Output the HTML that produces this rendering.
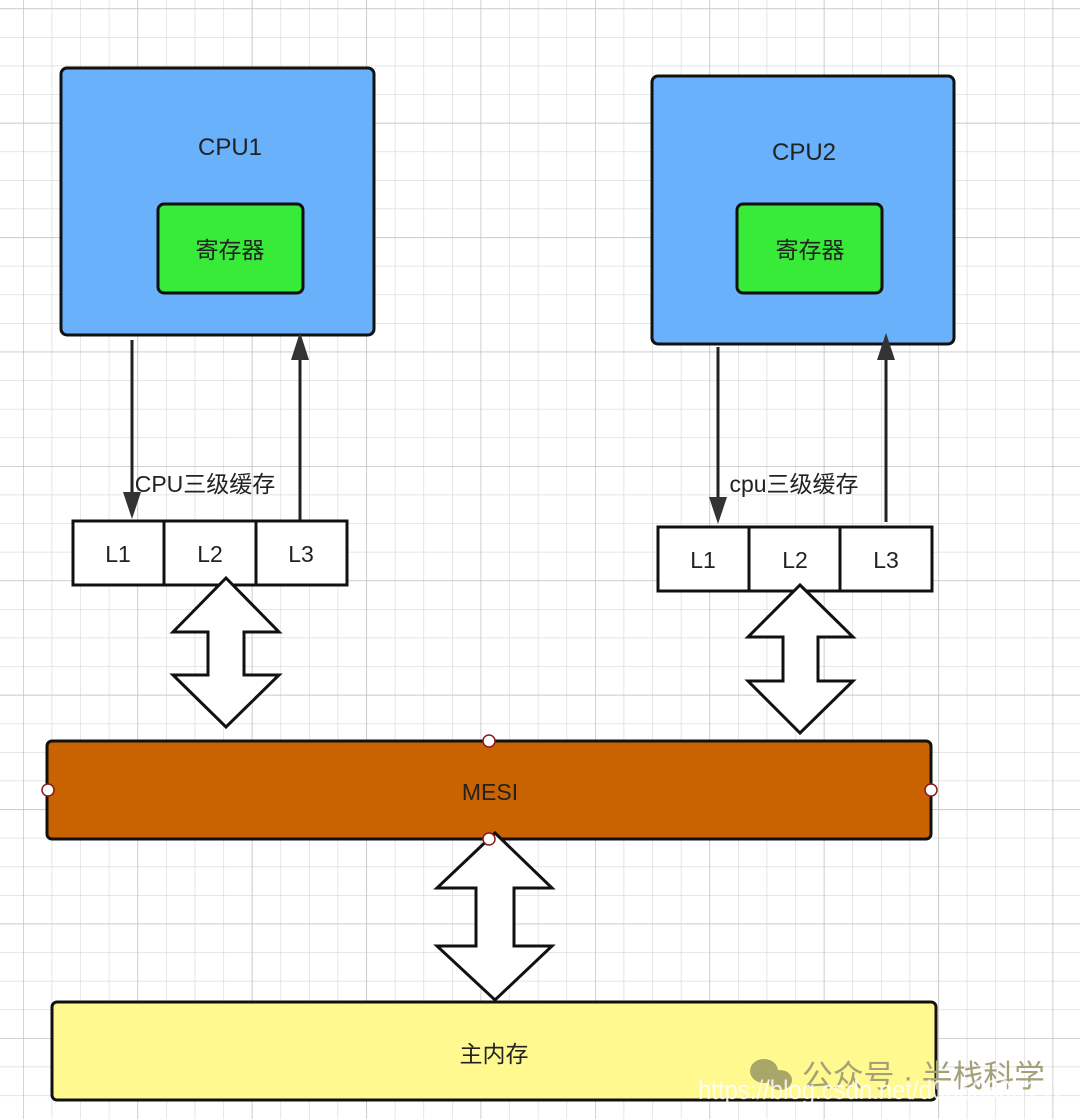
<!DOCTYPE html>
<html><head><meta charset="utf-8"><style>
html,body{margin:0;padding:0;background:#fff;}
svg{display:block;}
text{font-family:"Liberation Sans","Noto Sans CJK SC",sans-serif;fill:#222;}
</style></head><body>
<svg width="1080" height="1119" viewBox="0 0 1080 1119" xmlns="http://www.w3.org/2000/svg">
<defs>
<pattern id="g" x="23" y="8.4" width="28.6" height="28.6" patternUnits="userSpaceOnUse">
<path d="M0 0H28.6M0 0V28.6" stroke="#d6d6d6" stroke-width="1.2" fill="none"/>
</pattern>
<pattern id="G" x="23" y="8.4" width="114.4" height="114.4" patternUnits="userSpaceOnUse">
<path d="M0 0H114.4M0 0V114.4" stroke="#bdbdbd" stroke-width="1.2" fill="none"/>
</pattern>
</defs>
<rect width="1080" height="1119" fill="url(#g)"/>
<rect width="1080" height="1119" fill="url(#G)"/>

<!-- CPU1 -->
<rect x="61" y="68" width="313" height="267" rx="6" fill="#69b1fb" stroke="#111" stroke-width="3"/>
<text x="230" y="155" font-size="24" text-anchor="middle">CPU1</text>
<rect x="158" y="204" width="145" height="89" rx="6" fill="#38eb38" stroke="#111" stroke-width="3"/>
<text x="230" y="258" font-size="23" text-anchor="middle">寄存器</text>

<!-- CPU2 -->
<rect x="652" y="76" width="302" height="268" rx="6" fill="#69b1fb" stroke="#111" stroke-width="3"/>
<text x="804" y="160" font-size="24" text-anchor="middle">CPU2</text>
<rect x="737" y="204" width="145" height="89" rx="6" fill="#38eb38" stroke="#111" stroke-width="3"/>
<text x="810" y="258" font-size="23" text-anchor="middle">寄存器</text>

<!-- connectors cpu1 -->
<line x1="132" y1="340" x2="132" y2="495" stroke="#222" stroke-width="3"/>
<polygon points="123,492 141,492 132,519" fill="#333"/>
<line x1="300" y1="520" x2="300" y2="358" stroke="#222" stroke-width="3"/>
<polygon points="291,360 309,360 300,332" fill="#333"/>
<text x="205" y="492" font-size="23" text-anchor="middle">CPU三级缓存</text>

<!-- connectors cpu2 -->
<line x1="718" y1="347" x2="718" y2="500" stroke="#222" stroke-width="3"/>
<polygon points="709,497 727,497 718,524" fill="#333"/>
<line x1="886" y1="522" x2="886" y2="358" stroke="#222" stroke-width="3"/>
<polygon points="877,360 895,360 886,333" fill="#333"/>
<text x="794" y="492" font-size="23" text-anchor="middle">cpu三级缓存</text>

<g fill="#fff" stroke="#111" stroke-width="3">
<rect x="73" y="521" width="91" height="64"/>
<rect x="164" y="521" width="92" height="64"/>
<rect x="256" y="521" width="91" height="64"/>
<rect x="658" y="527" width="91" height="64"/>
<rect x="749" y="527" width="91" height="64"/>
<rect x="840" y="527" width="92" height="64"/>
</g>
<g font-size="23" text-anchor="middle">
<text x="118" y="562">L1</text><text x="210" y="562">L2</text><text x="301" y="562">L3</text>
<text x="703" y="568">L1</text><text x="795" y="568">L2</text><text x="886" y="568">L3</text>
</g>

<g fill="#fff" stroke="#111" stroke-width="3" stroke-linejoin="miter">
<polygon points="226,578 279,632 244,632 244,675 279,675 226,727 173,675 208,675 208,632 173,632"/>
<polygon points="800,585 853,637 818,637 818,681 853,681 800,733 748,681 783,681 783,637 748,637"/>
</g>

<rect x="47" y="741" width="884" height="98" rx="5" fill="#c96200" stroke="#111" stroke-width="3"/>
<text x="490" y="800" font-size="23" text-anchor="middle">MESI</text>

<rect x="52" y="1002" width="884" height="98" rx="5" fill="#fff98f" stroke="#111" stroke-width="3"/>
<text x="494" y="1062" font-size="23" text-anchor="middle">主内存</text>

<polygon points="495,833 552,888 514,888 514,946 552,946 495,1000 437,946 476,946 476,888 437,888" fill="#fff" stroke="#111" stroke-width="3"/>

<g fill="#fff" stroke="#8b1a1a" stroke-width="1.5">
<circle cx="489" cy="741" r="6"/>
<circle cx="48" cy="790" r="6"/>
<circle cx="931" cy="790" r="6"/>
<circle cx="489" cy="839" r="6"/>
</g>

<g fill="#a9a66a">
<ellipse cx="764" cy="1071" rx="14" ry="12"/>
<ellipse cx="780" cy="1080" rx="12" ry="10"/>
</g>
<text x="802" y="1087" font-size="31" textLength="243" lengthAdjust="spacingAndGlyphs" style="fill:#a3a07a">公众号 · 半栈科学</text>
<text x="698" y="1099" font-size="27" textLength="367" lengthAdjust="spacingAndGlyphs" style="fill:#fff;opacity:0.85">https://blog.csdn.net/d0650698147</text>
</svg>
</body></html>
